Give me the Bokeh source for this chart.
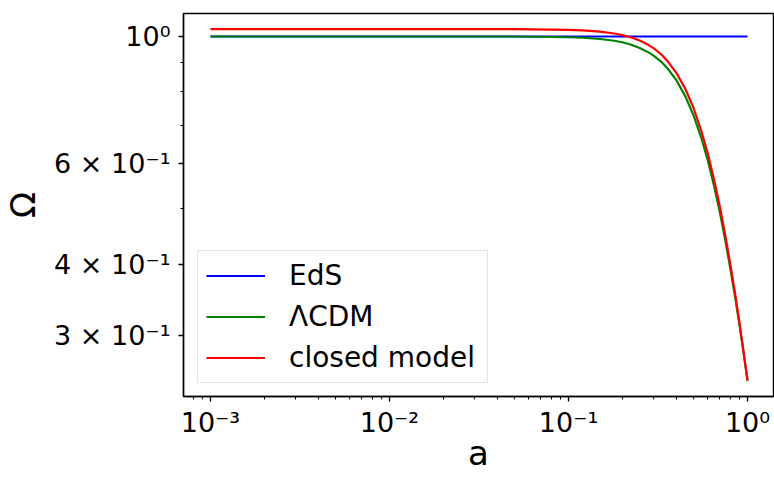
from bokeh.plotting import figure
from bokeh.models import Range1d, FixedTicker, Legend, LegendItem
from bokeh.embed import file_html
from bokeh.resources import INLINE

# Scale factor a and density parameter Omega for three cosmologies
a_vals = [0.001, 0.002, 0.005, 0.01, 0.02, 0.05, 0.08, 0.1, 0.12, 0.15, 0.18,
          0.2, 0.22, 0.25, 0.28, 0.3, 0.33, 0.36, 0.4, 0.45, 0.5, 0.55, 0.6,
          0.65, 0.7, 0.75, 0.8, 0.85, 0.9, 0.95, 1.0]

omega_eds = [1.0, 1.0, 1.0, 1.0, 1.0, 1.0, 1.0, 1.0, 1.0, 1.0, 1.0,
             1.0, 1.0, 1.0, 1.0, 1.0, 1.0, 1.0, 1.0, 1.0, 1.0, 1.0, 1.0,
             1.0, 1.0, 1.0, 1.0, 1.0, 1.0, 1.0, 1.0]

omega_lcdm = [1.000, 1.000, 1.000, 1.000, 1.000, 1.000, 0.998, 0.997, 0.995,
              0.990, 0.983, 0.977, 0.969, 0.955, 0.938, 0.925, 0.903, 0.877,
              0.839, 0.785, 0.727, 0.667, 0.607, 0.548, 0.493, 0.441, 0.394,
              0.352, 0.314, 0.280, 0.250]

omega_closed = [1.030, 1.030, 1.030, 1.030, 1.030, 1.030, 1.028, 1.027, 1.025,
                1.020, 1.012, 1.006, 0.998, 0.984, 0.966, 0.953, 0.930, 0.903,
                0.864, 0.809, 0.749, 0.686, 0.624, 0.562, 0.505, 0.450, 0.401,
                0.357, 0.317, 0.281, 0.250]

x_major = [0.001, 0.01, 0.1, 1.0]
x_labels = ["10\u207b\u00b3", "10\u207b\u00b2", "10\u207b\u00b9", "10\u2070"]
y_major = [0.3, 0.4, 0.6, 1.0]
y_labels = ["3 \u00d7 10\u207b\u00b9", "4 \u00d7 10\u207b\u00b9",
            "6 \u00d7 10\u207b\u00b9", "10\u2070"]
y_minor = [0.5, 0.7, 0.8, 0.9]

FONT = "DejaVu Sans"

p = figure(width=774, height=477, x_axis_type="log", y_axis_type="log",
           x_range=Range1d(10 ** -3.1506, 10 ** 0.145),
           y_range=Range1d(0.2346, 1.097),
           output_backend="svg", toolbar_location=None,
           min_border_left=182, min_border_right=1,
           min_border_top=13, min_border_bottom=81,
           background_fill_color="white", border_fill_color="white")

p.xgrid.visible = False
p.ygrid.visible = False
p.outline_line_color = "black"
p.outline_line_width = 1.4

r_eds = p.line(a_vals, omega_eds, line_color="#0000ff", line_width=2.2)
r_lcdm = p.line(a_vals, omega_lcdm, line_color="#008000", line_width=2.2,
                line_join="round")
r_closed = p.line(a_vals, omega_closed, line_color="#ff0000", line_width=2.2,
                  line_join="round")

x_minor = [m * d for d in [0.0001, 0.001, 0.01, 0.1] for m in range(2, 10)]
p.xaxis.ticker = FixedTicker(ticks=x_major, minor_ticks=x_minor)
p.xaxis.major_label_overrides = dict(zip(x_major, x_labels))
p.yaxis.ticker = FixedTicker(ticks=y_major, minor_ticks=y_minor)
p.yaxis.major_label_overrides = dict(zip(y_major, y_labels))

for ax in (p.xaxis, p.yaxis):
    ax.axis_line_color = "black"
    ax.axis_line_width = 1.4
    ax.major_tick_line_color = "black"
    ax.minor_tick_line_color = "black"
    ax.major_tick_line_width = 1.3
    ax.minor_tick_line_width = 1.0
    ax.major_tick_in = 0
    ax.minor_tick_in = 0
    ax.major_tick_out = 5
    ax.minor_tick_out = 3
    ax.major_label_text_font = FONT
    ax.major_label_text_font_size = "27px"
    ax.major_label_text_color = "black"
    ax.axis_label_text_font = FONT
    ax.axis_label_text_font_size = "34px"
    ax.axis_label_text_font_style = "normal"
    ax.axis_label_text_color = "black"

p.xaxis.axis_label = "a"
p.yaxis.axis_label = "\u03a9"
p.xaxis.major_label_standoff = 5
p.xaxis.axis_label_standoff = -8
p.yaxis.major_label_standoff = 8
p.yaxis.axis_label_standoff = 8

legend = Legend(items=[LegendItem(label="EdS", renderers=[r_eds]),
                       LegendItem(label="\u039bCDM", renderers=[r_lcdm]),
                       LegendItem(label="closed model", renderers=[r_closed])],
                location=(14, 13))
legend.label_text_font = FONT
legend.label_text_font_size = "28px"
legend.label_text_color = "black"
legend.glyph_width = 59
legend.glyph_height = 31
legend.label_height = 31
legend.label_width = 190
legend.label_standoff = 24
legend.padding = 8
legend.spacing = 8
legend.margin = 0
legend.border_line_color = "#cccccc"
legend.border_line_width = 1
legend.background_fill_alpha = 0.8
p.add_layout(legend, "center")

open("out.html", "w").write(file_html(p, INLINE))
